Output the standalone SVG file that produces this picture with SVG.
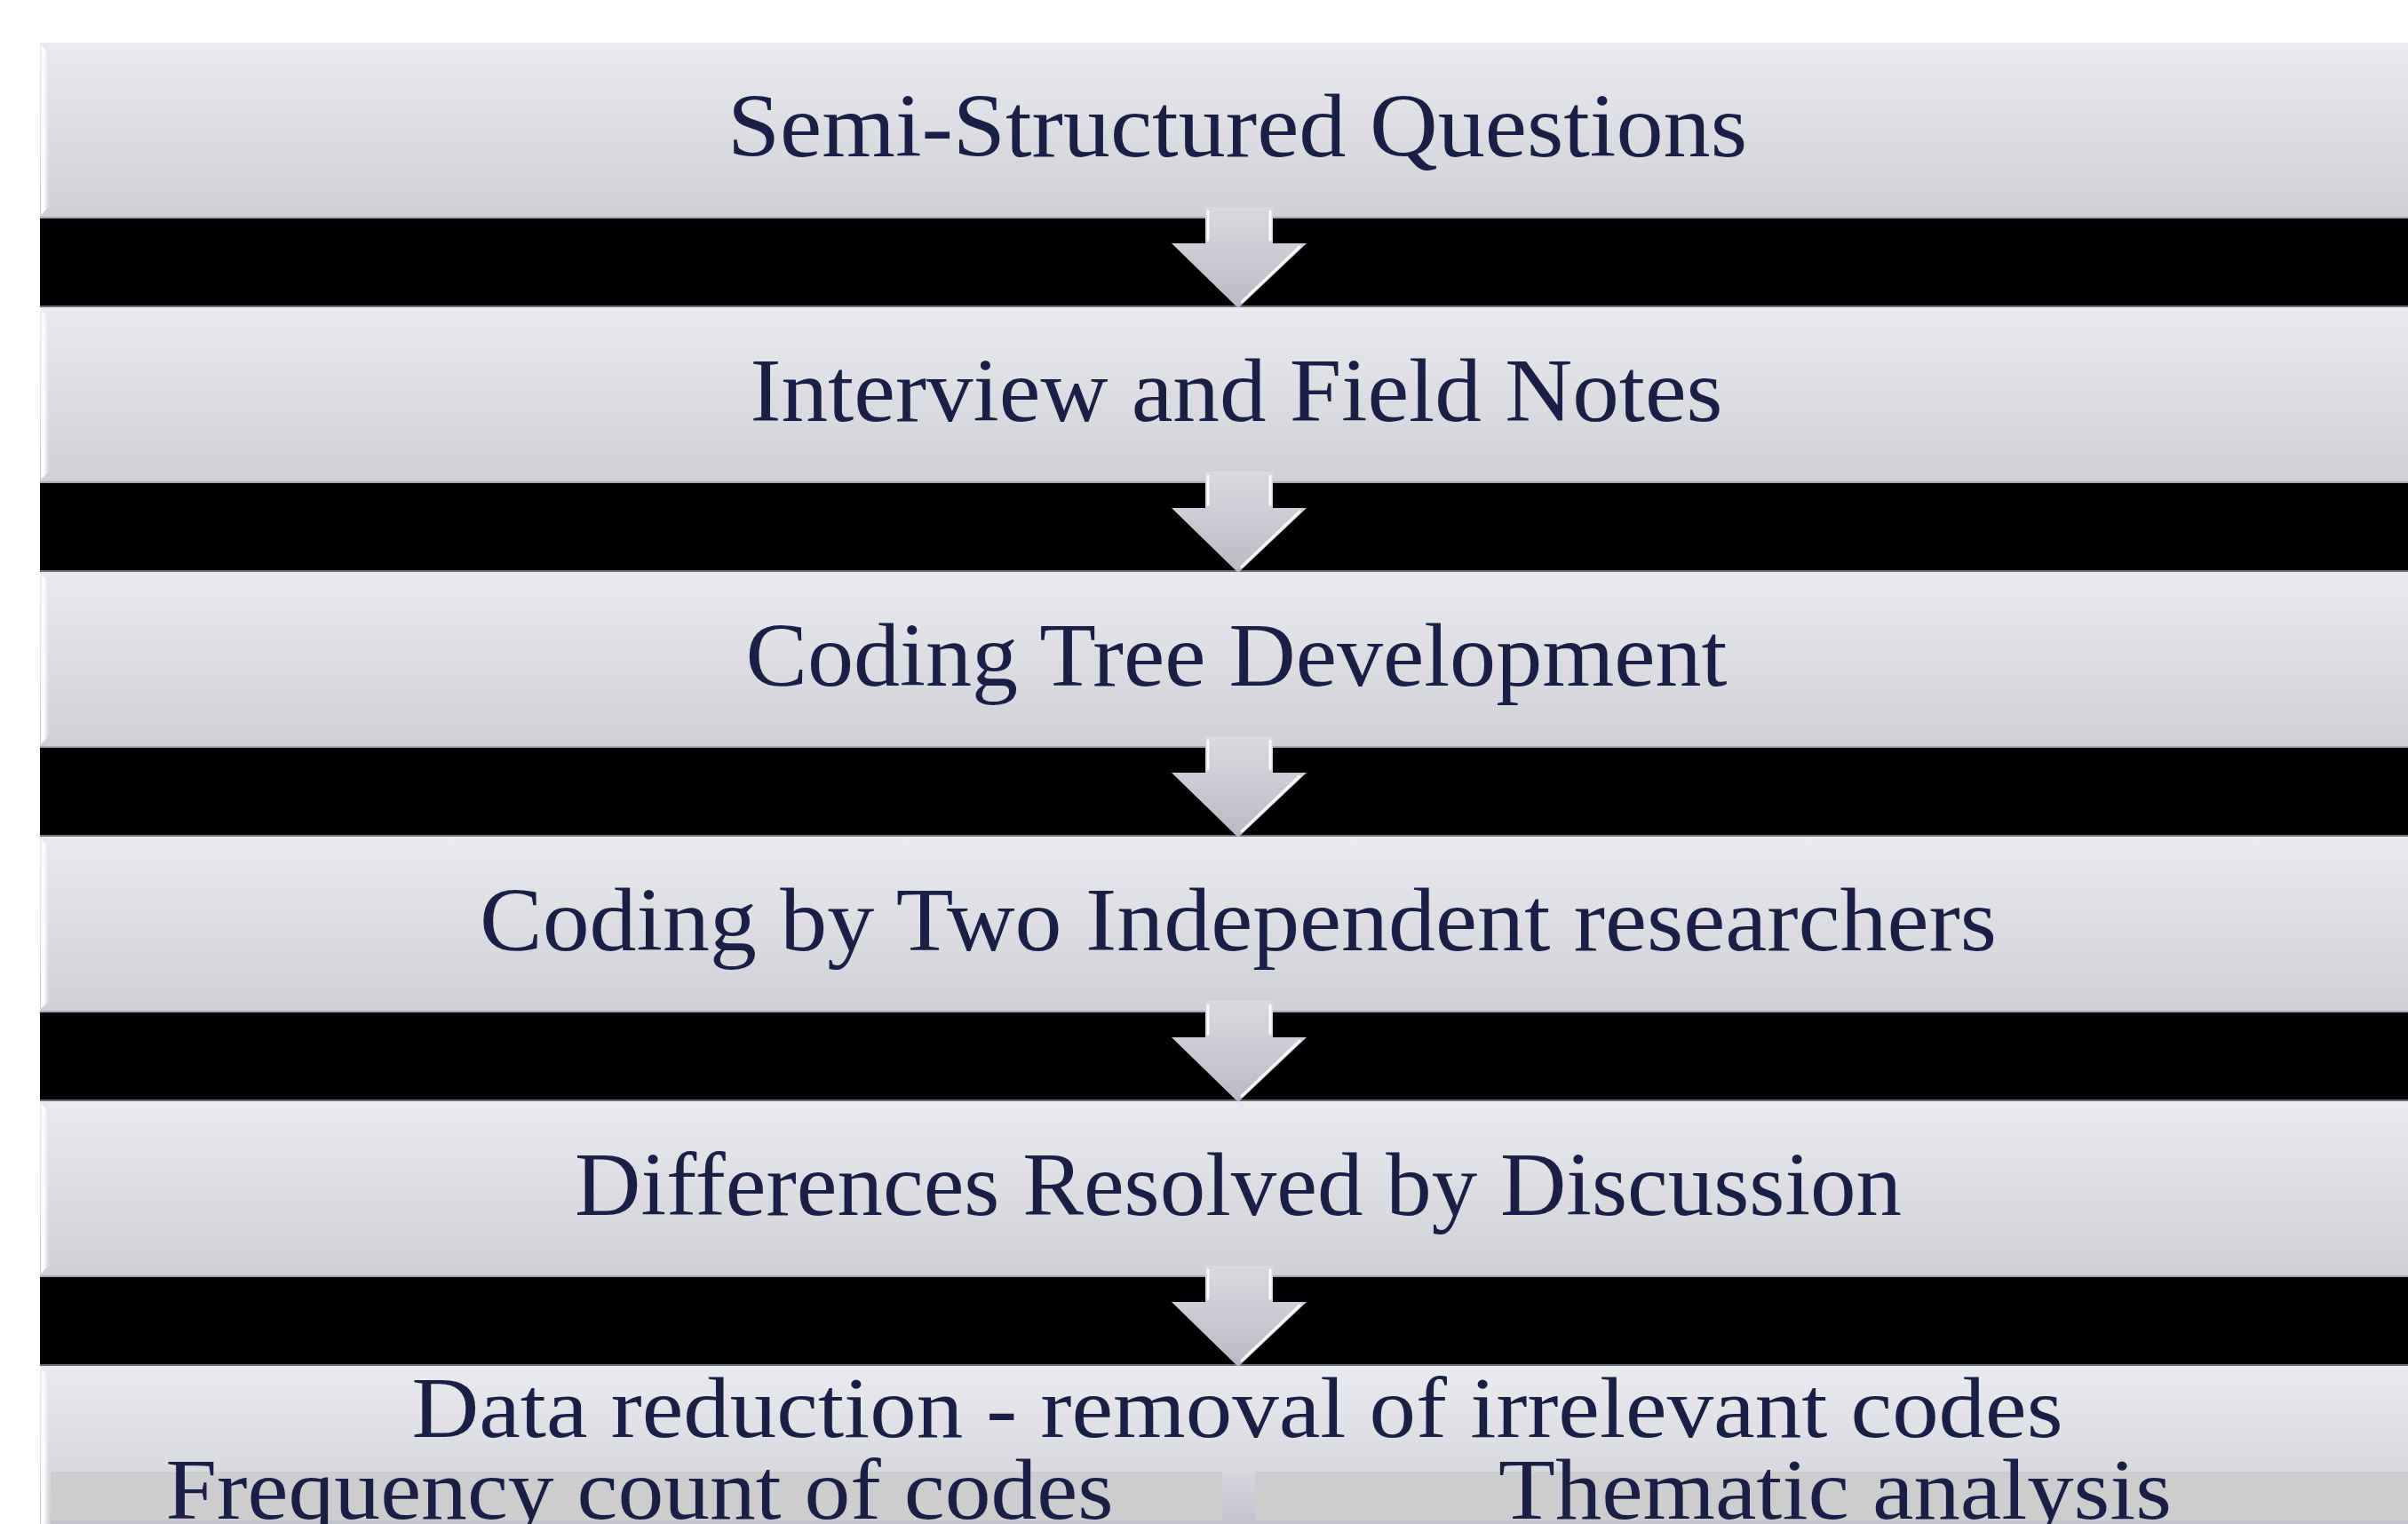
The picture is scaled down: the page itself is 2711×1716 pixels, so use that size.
<svg xmlns="http://www.w3.org/2000/svg" width="2711" height="1716" viewBox="0 0 2711 1716">
  <style>
    .box { fill: url(#boxGrad); }
    .band { fill: #000000; }
    .bandTop { stroke: #a9a9b1; stroke-width: 2; }
    .bandBot { stroke: #6c6c72; stroke-width: 2; }
    .bevel { fill: url(#bevelGrad); }
    .lbl { font-family: "Liberation Serif", "Times New Roman", serif; fill: #1b1f45; text-anchor: middle; }
    .big { font-size: 102px; }
    .mid { font-size: 97px; }
    .hl { stroke: #ffffff; stroke-width: 3; stroke-linecap: round; fill: none; opacity: 0.9; }
  </style>
  <defs>
    <linearGradient id="boxGrad" x1="0" y1="0" x2="0" y2="1">
      <stop offset="0" stop-color="#eaebef"/>
      <stop offset="1" stop-color="#cfd0d5"/>
    </linearGradient>
    <linearGradient id="bevelGrad" x1="0" y1="0" x2="1" y2="0">
      <stop offset="0" stop-color="#f4f4f8"/>
      <stop offset="0.35" stop-color="#ffffff"/>
      <stop offset="1" stop-color="#dcdce2" stop-opacity="0.3"/>
    </linearGradient>
    <linearGradient id="arrowGrad" x1="0" y1="0" x2="0" y2="1">
      <stop offset="0" stop-color="#d9d9df"/>
      <stop offset="1" stop-color="#babac6"/>
    </linearGradient>
    <linearGradient id="stripGrad" x1="0" y1="0" x2="0" y2="1">
      <stop offset="0" stop-color="#d6d6de"/>
      <stop offset="1" stop-color="#c4c4d0"/>
    </linearGradient>
    <g id="arrow">
      <polygon points="1357,-11 1433,-11 1433,30 1471,30 1394,103 1319,30 1357,30" fill="url(#arrowGrad)"/>
      <line class="hl" x1="1360" y1="-6" x2="1360" y2="26" stroke-width="4"/>
      <line class="hl" x1="1430" y1="-6" x2="1430" y2="26" stroke-width="4"/>
      <line class="hl" x1="1463" y1="34" x2="1398" y2="96" stroke-width="5"/>
    </g>
  </defs>

  <rect x="0" y="0" width="2711" height="1716" fill="#ffffff"/>

  <g id="bands">
    <rect class="band" x="45" y="244" width="2666" height="102"/>
    <rect class="band" x="45" y="542" width="2666" height="102"/>
    <rect class="band" x="45" y="840" width="2666" height="102"/>
    <rect class="band" x="45" y="1138" width="2666" height="102"/>
    <rect class="band" x="45" y="1436" width="2666" height="102"/>
  </g>

  <g id="node1">
    <rect class="box" x="45" y="48" width="2666" height="196"/>
    <polygon class="bevel" points="46,50 56,61 56,232 46,242"/>
    <text class="lbl big" x="1393" y="176" textLength="1148" lengthAdjust="spacingAndGlyphs">Semi-Structured Questions</text>
  </g>
  <g id="node2">
    <rect class="box" x="45" y="346" width="2666" height="196"/>
    <polygon class="bevel" points="46,348 56,359 56,530 46,540"/>
    <text class="lbl big" x="1392" y="474" textLength="1095" lengthAdjust="spacingAndGlyphs">Interview and Field Notes</text>
  </g>
  <g id="node3">
    <rect class="box" x="45" y="644" width="2666" height="196"/>
    <polygon class="bevel" points="46,646 56,657 56,828 46,838"/>
    <text class="lbl big" x="1392" y="772" textLength="1105" lengthAdjust="spacingAndGlyphs">Coding Tree Development</text>
  </g>
  <g id="node4">
    <rect class="box" x="45" y="942" width="2666" height="196"/>
    <polygon class="bevel" points="46,944 56,955 56,1126 46,1136"/>
    <text class="lbl big" x="1394" y="1070" textLength="1708" lengthAdjust="spacingAndGlyphs">Coding by Two Independent researchers</text>
  </g>
  <g id="node5">
    <rect class="box" x="45" y="1240" width="2666" height="196"/>
    <polygon class="bevel" points="46,1242 56,1253 56,1424 46,1434"/>
    <text class="lbl big" x="1394" y="1368" textLength="1494" lengthAdjust="spacingAndGlyphs">Differences Resolved by Discussion</text>
  </g>
  <g id="node6">
    <rect class="box" x="45" y="1538" width="2666" height="178"/>
    <rect x="57" y="1657" width="1319" height="55" fill="#cdcdd0"/>
    <rect x="1376" y="1657" width="37" height="55" fill="url(#stripGrad)"/>
    <rect x="1413" y="1657" width="1298" height="55" fill="#cdcdd0"/>
    <rect x="57" y="1712" width="2654" height="4" fill="#c3c3cf"/>
    <polygon class="bevel" points="46,1540 56,1551 56,1716 46,1716"/>
    <text class="lbl mid" x="1393" y="1618" textLength="1859" lengthAdjust="spacingAndGlyphs">Data reduction - removal of irrelevant codes</text>
    <text class="lbl mid" x="720" y="1710" textLength="1067" lengthAdjust="spacingAndGlyphs">Frequency count of codes</text>
    <text class="lbl mid" x="2066" y="1710" textLength="758" lengthAdjust="spacingAndGlyphs">Thematic analysis</text>
  </g>

  <g id="connectors">
    <line class="bandTop" x1="45" y1="245" x2="2711" y2="245"/>
    <line class="bandBot" x1="45" y1="345" x2="2711" y2="345"/>
    <line class="bandTop" x1="45" y1="543" x2="2711" y2="543"/>
    <line class="bandBot" x1="45" y1="643" x2="2711" y2="643"/>
    <line class="bandTop" x1="45" y1="841" x2="2711" y2="841"/>
    <line class="bandBot" x1="45" y1="941" x2="2711" y2="941"/>
    <line class="bandTop" x1="45" y1="1139" x2="2711" y2="1139"/>
    <line class="bandBot" x1="45" y1="1239" x2="2711" y2="1239"/>
    <line class="bandTop" x1="45" y1="1437" x2="2711" y2="1437"/>
    <line class="bandBot" x1="45" y1="1537" x2="2711" y2="1537"/>
    <use href="#arrow" transform="translate(0,244)"/>
    <use href="#arrow" transform="translate(0,542)"/>
    <use href="#arrow" transform="translate(0,840)"/>
    <use href="#arrow" transform="translate(0,1138)"/>
    <use href="#arrow" transform="translate(0,1436)"/>
  </g>
</svg>
